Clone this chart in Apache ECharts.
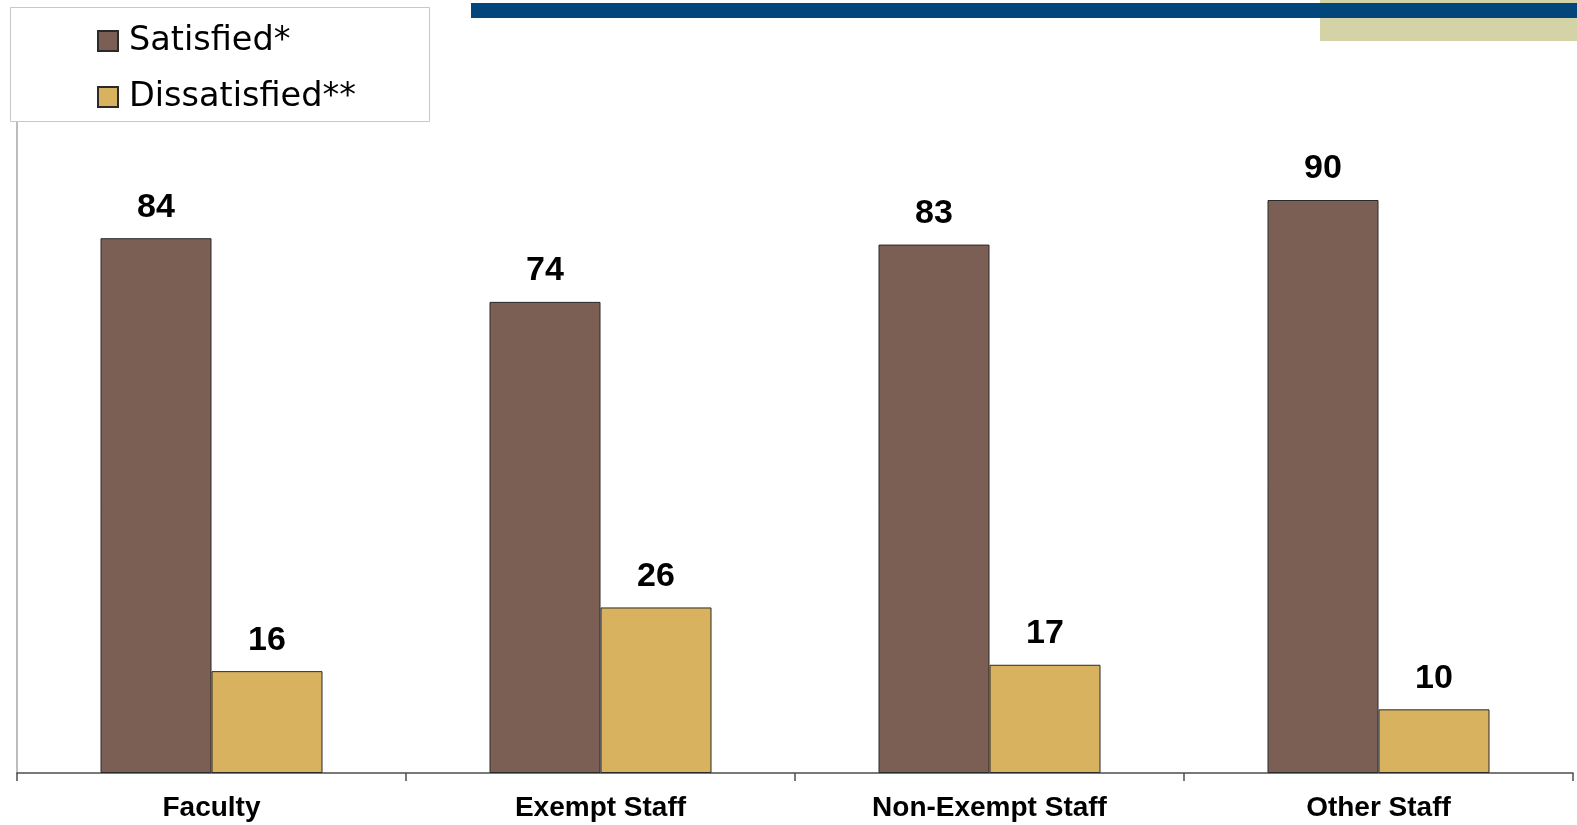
<!DOCTYPE html>
<html>
<head>
<meta charset="utf-8">
<script src="https://cdn.jsdelivr.net/npm/echarts@6/dist/echarts.min.js"></script>
<style>
  html, body { margin: 0; padding: 0; background: #ffffff; }
  #chart { width: 1577px; height: 825px; }
</style>
</head>
<body>
<div id="chart"></div>
<script>
// Satisfaction by employee group (percent)
const categories = ['Faculty', 'Exempt Staff', 'Non-Exempt Staff', 'Other Staff'];
const satisfied = [84, 74, 83, 90];
const dissatisfied = [16, 26, 17, 10];
const seriesNames = ['Satisfied*', 'Dissatisfied**'];

const chart = echarts.init(document.getElementById('chart'));

const labelStyle = {
  show: true,
  position: 'top',
  distance: 14,
  color: '#000000',
  fontFamily: 'Liberation Sans, Arial, sans-serif',
  fontWeight: 'bold',
  fontSize: 34
};

chart.setOption({
  backgroundColor: '#ffffff',
  animation: false,
  graphic: [
    // header decoration: khaki block under the blue rule
    { type: 'rect', z: 0, shape: { x: 1320, y: 0, width: 257, height: 41 }, style: { fill: '#d4d3a8' } },
    { type: 'rect', z: 1, shape: { x: 471, y: 3, width: 1106, height: 15 }, style: { fill: '#02467c' } },
    // legend frame
    { type: 'rect', z: 5, shape: { x: 10.5, y: 7.5, width: 419, height: 114 },
      style: { fill: '#ffffff', stroke: '#c8c8c8', lineWidth: 1 } }
  ],
  legend: {
    orient: 'vertical',
    left: 92,
    top: 18,
    z: 10,
    itemWidth: 20,
    itemHeight: 20,
    itemGap: 20,
    icon: 'rect',
    textStyle: {
      fontFamily: 'DejaVu Sans, sans-serif',
      fontSize: 33.5,
      lineHeight: 36,
      color: '#000000',
      padding: [0, 0, 0, 6]
    },
    data: seriesNames
  },
  grid: { left: 17, right: 4, top: 9, bottom: 52, containLabel: false },
  xAxis: {
    type: 'category',
    data: categories,
    axisLine: { show: true, lineStyle: { color: '#4d4d4d', width: 1.5 } },
    axisTick: { show: true, length: 8, lineStyle: { color: '#4d4d4d', width: 1.5 } },
    axisLabel: {
      margin: 21,
      color: '#000000',
      fontFamily: 'Liberation Sans, Arial, sans-serif',
      fontWeight: 'bold',
      fontSize: 28
    }
  },
  yAxis: {
    type: 'value',
    min: 0,
    max: 120,
    interval: 20,
    axisLine: { show: true, lineStyle: { color: '#bdbdbd', width: 2 } },
    axisTick: { show: false },
    axisLabel: { show: false },
    splitLine: { show: false }
  },
  series: [
    {
      name: seriesNames[0],
      type: 'bar',
      data: satisfied,
      barWidth: 111,
      barGap: '0%',
      itemStyle: { color: '#7b5f55', borderColor: '#2a2a2a', borderWidth: 1 },
      label: labelStyle
    },
    {
      name: seriesNames[1],
      type: 'bar',
      data: dissatisfied,
      barWidth: 111,
      barGap: '0%',
      itemStyle: { color: '#d8b25e', borderColor: '#2a2a2a', borderWidth: 1 },
      label: labelStyle
    }
  ]
});
</script>
</body>
</html>
